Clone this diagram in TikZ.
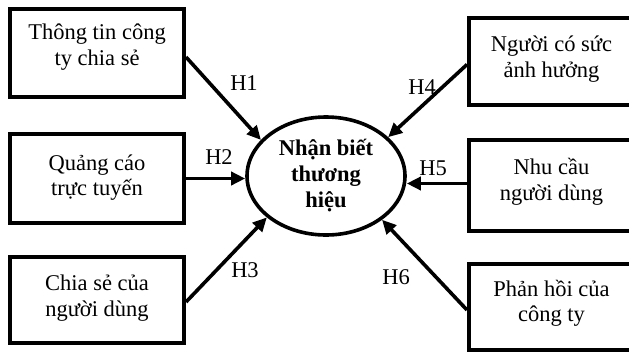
\documentclass[tikz,border=0pt]{standalone}
\usepackage{fontspec}
\setmainfont{Liberation Serif}
\usetikzlibrary{arrows.meta,shapes.geometric}
\begin{document}
\begin{tikzpicture}[x=1pt,y=-1pt,
  every node/.style={font=\fontsize{22.5}{25.5}\selectfont},
  box/.style={draw,line width=4pt,rectangle,inner sep=0pt,minimum width=174pt},
  rbox/.style={box,minimum width=165pt},
  txt/.style={align=center,inner sep=0pt},
  conn/.style={line width=3.6pt,-{Triangle[length=14pt,width=13pt]}},
  hlab/.style={inner sep=0pt}]
\useasboundingbox (0,0) rectangle (629,354);
\node[box,minimum height=88pt] (b1) at (97,53) {};
\node[box,minimum height=89pt] (b2) at (97,178.5) {};
\node[box,minimum height=86pt] (b3) at (97,300) {};
\node[rbox,minimum height=87pt] (b4) at (551.5,61.5) {};
\node[rbox,minimum height=91pt] (b5) at (551.5,185.5) {};
\node[rbox,minimum height=86pt] (b6) at (551.5,307) {};
\node[txt] (t1) at ([yshift=6pt]b1.center) {Thông tin công\\ty chia sẻ};
\node[txt] (t2) at ([yshift=1pt]b2.center) {Quảng cáo\\trực tuyến};
\node[txt] (t3) at ([yshift=2pt]b3.center) {Chia sẻ của\\người dùng};
\node[txt] (t4) at ([yshift=2.5pt]b4.center) {Người có sức\\ảnh hưởng};
\node[txt] (t5) at ([yshift=3.5pt]b5.center) {Nhu cầu\\người dùng};
\node[txt] (t6) at ([yshift=3.5pt]b6.center) {Phản hồi của\\công ty};
\node[draw,ellipse,line width=3.6pt,inner sep=0pt,minimum width=158pt,minimum height=118pt,align=center,font=\fontsize{22.5}{26}\selectfont\bfseries] (e) at (326,176) {Nhận biết\\thương\\hiệu};
\draw[conn] ([yshift=-4pt]b1.east) -- (e.151);
\draw[conn] (b2.east) -- (e.west |- b2.east);
\draw[conn] ([yshift=-2pt]b3.east) -- (e.215);
\draw[conn] ([yshift=-3pt]b4.west) -- (e.32);
\draw[conn] ([yshift=2pt]b5.west) -- ([yshift=2pt]e.east |- b5.west);
\draw[conn] ([yshift=-3pt]b6.west) -- (e.322);
\node[hlab] (h1) at (244,83) {H1};
\node[hlab] (h2) at (219,157) {H2};
\node[hlab] (h3) at (245,270) {H3};
\node[hlab] (h4) at (422,87) {H4};
\node[hlab] (h5) at (433,168) {H5};
\node[hlab] (h6) at (396,277) {H6};
\end{tikzpicture}
\end{document}
